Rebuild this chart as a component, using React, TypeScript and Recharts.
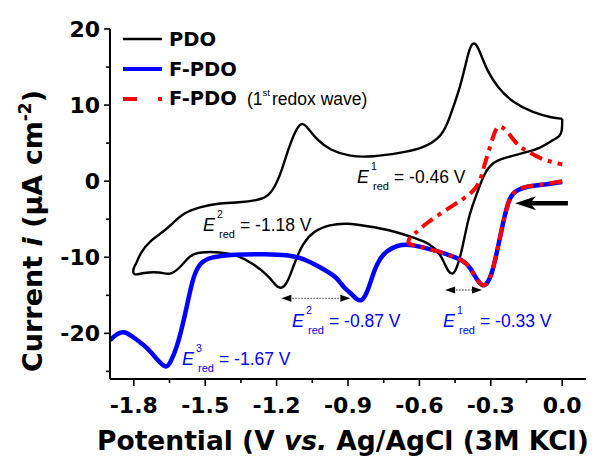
import React from 'react';
import { LineChart, Line, XAxis, YAxis, ReferenceLine } from 'recharts';

// ---------------- data ----------------
const xTickValues = [-1.8, -1.65, -1.5, -1.35, -1.2, -1.05, -0.9, -0.75, -0.6, -0.45, -0.3, -0.15, 0.0];
const yTickValues = [-25, -20, -15, -10, -5, 0, 5, 10, 15, 20];

// PDO: full cyclic voltammogram (cathodic sweep then anodic sweep)
const pdoPotential = [
  0.0, 0.0, -0.01, -0.039, -0.093, -0.165, -0.249, -0.295, -0.324, -0.354, -0.379, -0.396, -0.421, -0.442,
  -0.46, -0.48, -0.492, -0.513, -0.555, -0.627, -0.724, -0.82, -0.904, -0.976, -1.047, -1.089, -1.114,
  -1.139, -1.156, -1.18, -1.203, -1.228, -1.299, -1.366, -1.438, -1.522, -1.564, -1.606, -1.648, -1.69,
  -1.761, -1.803, -1.803, -1.787, -1.774, -1.732, -1.677, -1.635, -1.593, -1.522, -1.45, -1.354, -1.282,
  -1.24, -1.207, -1.177, -1.152, -1.123, -1.102, -1.089, -1.068, -1.03, -0.976, -0.892, -0.795, -0.682,
  -0.585, -0.513, -0.484, -0.459, -0.429, -0.408, -0.392, -0.375, -0.358, -0.341, -0.316, -0.274, -0.207,
  -0.123, -0.039, 0.0,
];
const pdoCurrent = [
  8.2, 6.6, 5.9, 5.4, 4.3, 3.7, 3.0, 2.4, 1.2, -1.2, -3.4, -5.1, -9.1, -11.4,
  -12.4, -11.8, -11.0, -9.5, -8.2, -7.4, -6.4, -5.9, -5.5, -5.7, -6.6, -8.2, -9.9,
  -12.0, -13.4, -14.2, -13.8, -12.6, -10.8, -9.7, -9.3, -9.3, -9.7, -11.4, -12.4, -11.9,
  -12.0, -12.5, -11.4, -10.7, -9.5, -7.8, -6.7, -5.5, -4.2, -3.4, -2.9, -2.8, -2.5,
  -2.1, -0.8, 1.5, 4.1, 6.5, 7.5, 7.6, 7.0, 5.4, 4.1, 3.2, 3.2, 3.7,
  4.3, 5.7, 7.4, 9.6, 12.4, 15.0, 17.2, 18.3, 17.9, 16.6, 14.6, 12.4, 10.3,
  9.0, 8.3, 8.2,
];

// F-PDO: cathodic sweep
const fpdoPotential = [
  0.0, -0.05, -0.093, -0.148, -0.185, -0.207, -0.222, -0.232, -0.249, -0.27, -0.291, -0.312, -0.333,
  -0.358, -0.387, -0.417, -0.459, -0.513, -0.585, -0.639, -0.694, -0.74, -0.768, -0.79, -0.815, -0.841,
  -0.866, -0.892, -0.921, -0.946, -1.018, -1.089, -1.156, -1.24, -1.383, -1.48, -1.522, -1.551, -1.572,
  -1.593, -1.618, -1.648, -1.665, -1.698, -1.745, -1.803, -1.837, -1.87, -1.9,
];
const fpdoCurrent = [
  -0.1, -0.35, -0.5, -0.7, -1.1, -1.6, -2.4, -3.4, -5.5, -8.7, -11.7, -13.4, -13.9,
  -13.0, -11.3, -10.4, -9.9, -9.3, -8.7, -8.3, -8.4, -9.2, -10.3, -11.7, -14.3, -15.9,
  -15.5, -14.6, -13.9, -12.6, -11.3, -10.1, -9.7, -9.6, -9.6, -10.0, -10.7, -12.6, -15.7,
  -18.7, -21.8, -24.0, -24.6, -23.6, -21.8, -20.5, -19.7, -20.0, -20.9,
];

// F-PDO, 1st redox wave only
const firstWavePotential = [
  0.0, -0.05, -0.093, -0.148, -0.185, -0.207, -0.222, -0.232, -0.249, -0.27, -0.291, -0.312, -0.333,
  -0.358, -0.387, -0.417, -0.459, -0.513, -0.585, -0.63, -0.648, -0.645, -0.631, -0.568, -0.459,
  -0.375, -0.345, -0.333, -0.303, -0.282, -0.266, -0.232, -0.19, -0.135, -0.081, 0.0,
];
const firstWaveCurrent = [
  0.0, -0.3, -0.45, -0.65, -1.05, -1.6, -2.4, -3.4, -5.5, -8.7, -11.7, -13.4, -13.9,
  -13.0, -11.3, -10.4, -9.9, -9.3, -8.7, -8.4, -8.2, -7.6, -7.2, -5.4, -3.2,
  -1.5, -0.1, 1.5, 4.5, 6.7, 7.4, 6.7, 4.7, 3.7, 2.8, 2.2,
];

const zip = (vs: number[], is: number[]) => vs.map((v, k) => ({ v, i: is[k] }));
const pdoData = zip(pdoPotential, pdoCurrent);
const fpdoData = zip(fpdoPotential, fpdoCurrent);
const firstWaveData = zip(firstWavePotential, firstWaveCurrent);

// ---------------- styling ----------------
const BOLD = '"DejaVu Sans", Verdana, sans-serif';
const ARIAL = '"Liberation Sans", Arial, sans-serif';
const PLOT_LEFT = 110;
const PLOT_BOTTOM = 379;
const BLUE = '#0000ff';
const RED = '#ff0000';

function YTick(props: any) {
  const { y, payload } = props;
  const val = payload.value as number;
  const major = Math.abs(val % 10) < 1e-9;
  return (
    <g>
      <line x1={PLOT_LEFT - (major ? 6 : 4)} x2={PLOT_LEFT} y1={y} y2={y} stroke="#000" strokeWidth={1.6} />
      {major && (
        <text x={100} y={y + 8} textAnchor="end" fontFamily={BOLD} fontWeight="bold" fontSize={22} fill="#000">
          {val}
        </text>
      )}
    </g>
  );
}

function XTick(props: any) {
  const { x, payload } = props;
  const val = payload.value as number;
  const major = Math.abs(val * 10 - Math.round(val * 10)) < 1e-6;
  return (
    <g>
      <line x1={x} x2={x} y1={PLOT_BOTTOM} y2={PLOT_BOTTOM + (major ? 7 : 4)} stroke="#000" strokeWidth={1.6} />
      {major && (
        <text x={x} y={413} textAnchor="middle" fontFamily={BOLD} fontWeight="bold" fontSize={22} fill="#000">
          {val.toFixed(1)}
        </text>
      )}
    </g>
  );
}

function DoubleArrow(p: any) {
  const { x1, y1, x2, y2 } = p;
  const l = Math.min(x1, x2);
  const r = Math.max(x1, x2);
  const y = (y1 + y2) / 2;
  return (
    <g>
      <line x1={l + 8} x2={r - 8} y1={y} y2={y} stroke="#666" strokeWidth={1.3} strokeDasharray="1.5 1.5" />
      <polygon points={`${l},${y} ${l + 10},${y - 3.5} ${l + 10},${y + 3.5}`} fill="#000" />
      <polygon points={`${r},${y} ${r - 10},${y - 3.5} ${r - 10},${y + 3.5}`} fill="#000" />
    </g>
  );
}

function BigArrow(p: any) {
  const { x1, y1, x2, y2 } = p;
  const tail = Math.max(x1, x2);
  const tip = Math.min(x1, x2);
  const y = (y1 + y2) / 2;
  return (
    <g>
      <line x1={tip + 14} x2={tail} y1={y} y2={y} stroke="#000" strokeWidth={4.5} />
      <polygon points={`${tip},${y} ${tip + 21},${y - 7} ${tip + 15},${y} ${tip + 21},${y + 7}`} fill="#000" />
    </g>
  );
}

function Ered({ x, y, n, value, color }: { x: number; y: number; n: string; value: string; color: string }) {
  return (
    <g fill={color} fontFamily={ARIAL}>
      <text x={x} y={y} fontSize={18} fontStyle="italic">E</text>
      <text x={x + 14} y={y - 13} fontSize={10.5}>{n}</text>
      <text x={x + 16} y={y + 7} fontSize={11}>red</text>
      <text x={x + 37} y={y} fontSize={17.5}>= {value} V</text>
    </g>
  );
}

export default function App() {
  return (
    <div style={{ position: 'absolute', left: 0, top: 0, width: 595, height: 457, background: '#fff' }}>
      <LineChart width={595} height={457} margin={{ top: 29, right: 9, bottom: 0, left: 0 }}>
        <XAxis
          type="number"
          dataKey="v"
          domain={[-1.9, 0.1]}
          ticks={xTickValues}
          interval={0}
          allowDataOverflow
          height={78}
          tickLine={false}
          axisLine={{ stroke: '#000', strokeWidth: 2 }}
          tick={<XTick />}
        />
        <YAxis
          type="number"
          domain={[-26, 20]}
          ticks={yTickValues}
          interval={0}
          allowDataOverflow
          width={110}
          tickLine={false}
          axisLine={{ stroke: '#000', strokeWidth: 2 }}
          tick={<YTick />}
        />
        <Line
          data={pdoData}
          dataKey="i"
          type="basis"
          stroke="#000"
          strokeWidth={2.4}
          dot={false}
          activeDot={false}
          isAnimationActive={false}
        />
        <Line
          data={fpdoData}
          dataKey="i"
          type="basis"
          stroke={BLUE}
          strokeWidth={4.5}
          dot={false}
          activeDot={false}
          isAnimationActive={false}
        />
        <Line
          data={firstWaveData}
          dataKey="i"
          type="basis"
          stroke={RED}
          strokeWidth={4}
          strokeDasharray="13 6 4 6"
          dot={false}
          activeDot={false}
          isAnimationActive={false}
        />
        <ReferenceLine
          segment={[{ x: -1.18, y: -15.4 }, { x: -0.89, y: -15.4 }]}
          ifOverflow="visible"
          shape={(p: any) => <DoubleArrow {...p} />}
        />
        <ReferenceLine
          segment={[{ x: -0.492, y: -14.3 }, { x: -0.337, y: -14.3 }]}
          ifOverflow="visible"
          shape={(p: any) => <DoubleArrow {...p} />}
        />
        <ReferenceLine
          segment={[{ x: 0.024, y: -2.9 }, { x: -0.198, y: -2.9 }]}
          ifOverflow="visible"
          shape={(p: any) => <BigArrow {...p} />}
        />
      </LineChart>
      <svg
        width={595}
        height={457}
        style={{ position: 'absolute', left: 0, top: 0, pointerEvents: 'none', overflow: 'hidden' }}
      >
        {/* legend */}
        <line x1={123} x2={162} y1={39} y2={39} stroke="#000" strokeWidth={2.5} />
        <line x1={123} x2={162} y1={69} y2={69} stroke={BLUE} strokeWidth={4} />
        <line x1={123} x2={137} y1={99} y2={99} stroke={RED} strokeWidth={4} />
        <line x1={158} x2={162} y1={99} y2={99} stroke={RED} strokeWidth={4} />
        <g fontFamily={BOLD} fontWeight="bold" fontSize={19.5} fill="#000">
          <text x={169} y={46}>PDO</text>
          <text x={169} y={75.5}>F-PDO</text>
          <text x={169} y={105}>F-PDO</text>
        </g>
        <g fontFamily={ARIAL} fill="#000">
          <text x={247} y={105} fontSize={17.5}>(1</text>
          <text x={262.5} y={96} fontSize={9.5}>st</text>
          <text x={272} y={105} fontSize={17.5}>redox wave)</text>
        </g>

        {/* annotations */}
        <Ered x={203} y={231} n="2" value="-1.18" color="#000" />
        <Ered x={357} y={183} n="1" value="-0.46" color="#000" />
        <Ered x={292} y={327} n="2" value="-0.87" color={BLUE} />
        <Ered x={443} y={327} n="1" value="-0.33" color={BLUE} />
        <Ered x={182} y={365} n="3" value="-1.67" color={BLUE} />

        {/* axis titles */}
        <text
          transform="translate(42,231) rotate(-90)"
          textAnchor="middle"
          fontFamily={BOLD}
          fontWeight="bold"
          fontSize={27}
          fill="#000"
        >
          Current <tspan fontStyle="italic">i</tspan> (μA cm
          <tspan fontSize={17} dy={-11}>-2</tspan>
          <tspan dy={11}>)</tspan>
        </text>
        <text x={97} y={450} fontFamily={BOLD} fontWeight="bold" fontSize={26.5} fill="#000">
          Potential (V <tspan fontStyle="italic">vs.</tspan> Ag/AgCl (3M KCl)
        </text>
      </svg>
    </div>
  );
}
